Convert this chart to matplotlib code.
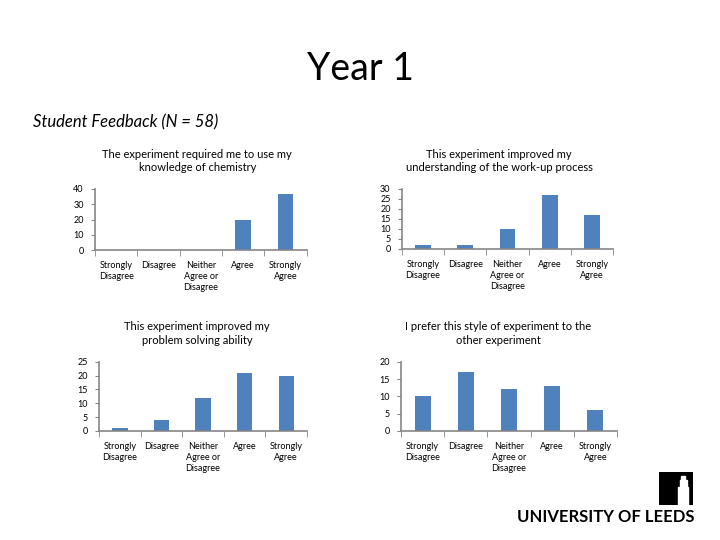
import matplotlib.pyplot as plt
import matplotlib.patches as mpatches

plt.rcParams['font.family'] = ['Lato', 'DejaVu Sans']

# Data
categories = ["Strongly\nDisagree", "Disagree", "Neither\nAgree or\nDisagree",
              "Agree", "Strongly\nAgree"]
titles = ["The experiment required me to use my\nknowledge of chemistry",
          "This experiment improved my\nunderstanding of the work-up process",
          "This experiment improved my\nproblem solving ability",
          "I prefer this style of experiment to the\nother experiment"]
chemistry = [0, 0, 0, 20, 37]
workup = [2, 2, 10, 27, 17]
problem_solving = [1, 4, 12, 21, 20]
prefer = [10, 17, 12, 13, 6]
series = [chemistry, workup, problem_solving, prefer]
y_max = [40, 30, 25, 20]
y_step = [10, 5, 5, 5]

bar_color = '#4F81BD'
axis_color = '#868686'

fig = plt.figure(figsize=(7.2, 5.4), dpi=100)

fig.text(0.5, 0.872, "Year 1", ha='center', va='center', fontsize=27)
fig.text(0.046, 0.774, "Student Feedback (N = 58)", ha='left', va='center',
         fontsize=12, style='italic')

# axes positions [left, bottom, width, height]
boxes = [[0.132, 0.537, 0.294, 0.113],
         [0.558, 0.539, 0.294, 0.111],
         [0.1375, 0.202, 0.289, 0.128],
         [0.557, 0.202, 0.300, 0.128]]
title_pos = [(0.274, 0.702), (0.693, 0.702), (0.274, 0.382), (0.692, 0.382)]

for i in range(4):
    ax = fig.add_axes(boxes[i])
    x = range(len(categories))
    ax.bar(x, series[i], width=0.37, color=bar_color)
    ax.set_xlim(-0.5, len(categories) - 0.5)
    ax.set_ylim(0, y_max[i])
    ax.set_yticks(range(0, y_max[i] + 1, y_step[i]))
    ax.set_xticks(list(x))
    ax.set_xticklabels(categories, fontsize=6.5, va='top', linespacing=1.3)
    ax.set_xticks([k - 0.5 for k in range(len(categories) + 1)], minor=True)
    ax.tick_params(axis='x', which='major', length=0, pad=8)
    ax.tick_params(axis='x', which='minor', length=4, color=axis_color,
                   direction='out')
    ax.tick_params(axis='y', labelsize=6.5, length=3, color=axis_color,
                   direction='out', pad=5)
    for s in ['top', 'right']:
        ax.spines[s].set_visible(False)
    for s in ['left', 'bottom']:
        ax.spines[s].set_color(axis_color)
        ax.spines[s].set_linewidth(1.2)
    fig.text(title_pos[i][0], title_pos[i][1], titles[i], ha='center',
             va='center', fontsize=8, linespacing=1.3)

# University logo
logo = fig.add_axes([0.915, 0.065, 0.047, 0.061])
logo.set_xlim(0, 1)
logo.set_ylim(0, 1)
logo.axis('off')
logo.add_patch(mpatches.Rectangle((0, 0), 1, 1, color='black'))
logo.add_patch(mpatches.Rectangle((0.58, 0.0), 0.28, 0.55, color='white'))
logo.add_patch(mpatches.Rectangle((0.62, 0.55), 0.2, 0.2, color='white'))
logo.add_patch(mpatches.Rectangle((0.67, 0.75), 0.1, 0.12, color='white'))
fig.text(0.842, 0.043, "UNIVERSITY OF LEEDS", ha='center', va='center',
         fontsize=12, fontweight='bold')

fig.savefig("out.png", dpi=100)
